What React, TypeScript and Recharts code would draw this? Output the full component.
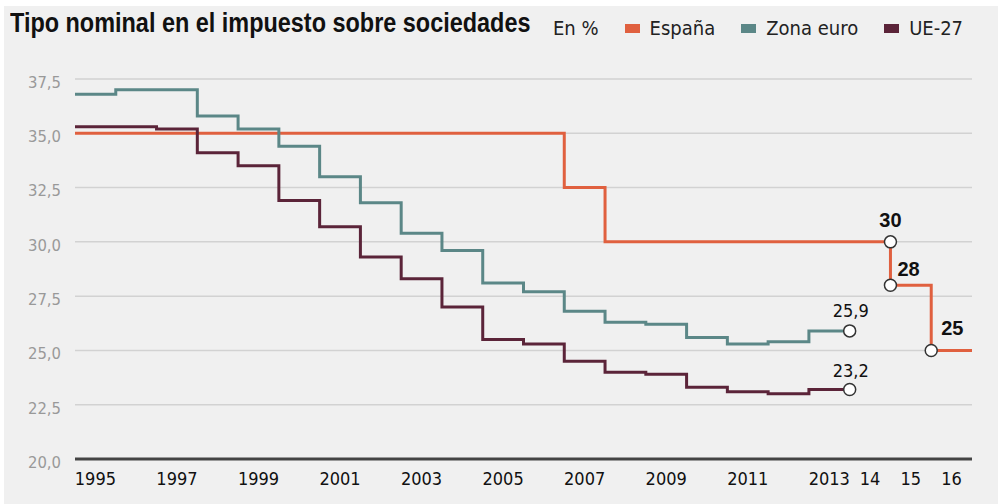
import React from 'react'
import {
  ComposedChart, Line, Scatter, XAxis, YAxis, CartesianGrid,
} from 'recharts'

// Tipo nominal del impuesto sobre sociedades, en %
const YEARS = [
  1995, 1996, 1997, 1998, 1999, 2000, 2001, 2002, 2003, 2004, 2005,
  2006, 2007, 2008, 2009, 2010, 2011, 2012, 2013, 2014, 2015, 2016,
]
const ESPANA = [
  35, 35, 35, 35, 35, 35, 35, 35, 35, 35, 35,
  35, 32.5, 30, 30, 30, 30, 30, 30, 30, 28, 25,
]
const ZONA_EURO = [
  36.8, 37.0, 37.0, 35.8, 35.2, 34.4, 33.0, 31.8, 30.4, 29.6,
  28.1, 27.7, 26.8, 26.3, 26.2, 25.6, 25.3, 25.4, 25.9,
]
const UE27 = [
  35.3, 35.3, 35.2, 34.1, 33.5, 31.9, 30.7, 29.3, 28.3, 27.0,
  25.5, 25.3, 24.5, 24.0, 23.9, 23.3, 23.1, 23.0, 23.2,
]
const Y_TICKS = [20, 22.5, 25, 27.5, 30, 32.5, 35, 37.5]
const X_LABEL_YEARS = [1995, 1997, 1999, 2001, 2003, 2005, 2007, 2009, 2011, 2013, 2014, 2015, 2016]
const MARKS_ESPANA = [
  { x: 2015, v: 30, text: '30' },
  { x: 2015, v: 28, text: '28' },
  { x: 2016, v: 25, text: '25' },
]
const MARKS_EURO = [
  { x: 2014, v: 25.9, text: '25,9' },
  { x: 2014, v: 23.2, text: '23,2' },
]

const COLORS = { espana: '#e0603f', euro: '#5b8787', ue: '#5b2439' }
const COND = "'DejaVu Sans Condensed', 'DejaVu Sans', sans-serif"
const BOLD = "'Liberation Sans', Arial, sans-serif"

// each year is a band [year, year+1]; a final point closes the last band
const toSteps = (vals: number[]) => {
  const pts = vals.map((v, i) => ({ x: YEARS[i], v }))
  pts.push({ x: YEARS[vals.length - 1] + 1, v: vals[vals.length - 1] })
  return pts
}

const espanaData = toSteps(ESPANA)
const euroData = toSteps(ZONA_EURO)
const ueData = toSteps(UE27)

const LABEL_POS: Record<string, { dx: number; dy: number; anchor: string; bold: boolean }> = {
  '30': { dx: 0, dy: -15, anchor: 'middle', bold: true },
  '28': { dx: 7, dy: -9, anchor: 'start', bold: true },
  '25': { dx: 10, dy: -15, anchor: 'start', bold: true },
  '25,9': { dx: 1, dy: -14, anchor: 'middle', bold: false },
  '23,2': { dx: 1, dy: -13, anchor: 'middle', bold: false },
}

const MarkShape = (props: any) => {
  const { cx, cy, payload } = props
  const p = LABEL_POS[payload.text]
  return (
    <g>
      <circle cx={cx} cy={cy} r={6} fill="#fff" stroke="#333" strokeWidth={1.5} />
      <text
        x={cx + p.dx}
        y={cy + p.dy}
        textAnchor={p.anchor as any}
        fill="#111"
        style={{
          fontFamily: p.bold ? BOLD : COND,
          fontWeight: p.bold ? 700 : 400,
          fontSize: p.bold ? 20 : 18,
        }}
      >
        {payload.text}
      </text>
    </g>
  )
}

const fmtY = (v: number) => v.toFixed(1).replace('.', ',')
const fmtX = (v: number) => {
  const y = Math.floor(v)
  return y > 2013 ? String(y).slice(2) : String(y)
}

const LegendItem = ({ color, label }: { color: string; label: string }) => (
  <div style={{ display: 'flex', alignItems: 'center', marginLeft: 26 }}>
    <span style={{ width: 15, height: 9, background: color, display: 'inline-block', marginRight: 10 }} />
    <span>{label}</span>
  </div>
)

export default function App() {
  return (
    <div style={{ position: 'absolute', left: 0, top: 0, width: 998, height: 504, background: '#fff' }}>
      <div style={{ position: 'absolute', left: 4, top: 6, width: 994, height: 498, background: '#f0f0f0' }} />
      <div
        style={{
          position: 'absolute', left: 10, top: 10, lineHeight: '27px',
          fontFamily: BOLD, fontWeight: 700, fontSize: 27, color: '#111', whiteSpace: 'nowrap',
          transform: 'scaleX(0.868)', transformOrigin: 'left center',
        }}
      >
        Tipo nominal en el impuesto sobre sociedades
      </div>
      <div
        style={{
          position: 'absolute', left: 553, top: 15, display: 'flex', alignItems: 'center',
          fontFamily: COND, fontSize: 20, lineHeight: '26px', color: '#222', whiteSpace: 'nowrap',
        }}
      >
        <span>En %</span>
        <LegendItem color={COLORS.espana} label="España" />
        <LegendItem color={COLORS.euro} label="Zona euro" />
        <LegendItem color={COLORS.ue} label="UE-27" />
      </div>
      <div style={{ position: 'absolute', left: 0, top: 0 }}>
        <ComposedChart width={998} height={504} margin={{ top: 79, right: 26, left: 0, bottom: 15 }}>
          <CartesianGrid vertical={false} stroke="#d2d2d2" strokeWidth={1.5} />
          <XAxis
            type="number"
            dataKey="x"
            domain={[1995, 2017]}
            ticks={X_LABEL_YEARS.map(y => y + 0.5)}
            tickFormatter={fmtX}
            interval={0}
            height={30}
            axisLine={{ stroke: '#444', strokeWidth: 3 }}
            tickLine={false}
            tickSize={0}
            tickMargin={13}
            tick={{ fill: '#111', fontSize: 18, fontFamily: COND }}
            allowDataOverflow
          />
          <YAxis
            type="number"
            dataKey="v"
            domain={[20, 37.5]}
            ticks={Y_TICKS}
            tickFormatter={fmtY}
            width={75}
            axisLine={false}
            tickLine={false}
            tickSize={0}
            tickMargin={14}
            tick={{ fill: '#999', fontSize: 16.5, fontFamily: COND, dy: 3 }}
            allowDataOverflow
          />
          <Line data={espanaData} dataKey="v" type="stepAfter" stroke={COLORS.espana} strokeWidth={3} dot={false} isAnimationActive={false} />
          <Line data={euroData} dataKey="v" type="stepAfter" stroke={COLORS.euro} strokeWidth={3} dot={false} isAnimationActive={false} />
          <Line data={ueData} dataKey="v" type="stepAfter" stroke={COLORS.ue} strokeWidth={3} dot={false} isAnimationActive={false} />
          <Scatter data={MARKS_ESPANA} dataKey="v" shape={MarkShape} isAnimationActive={false} />
          <Scatter data={MARKS_EURO} dataKey="v" shape={MarkShape} isAnimationActive={false} />
        </ComposedChart>
      </div>
    </div>
  )
}
